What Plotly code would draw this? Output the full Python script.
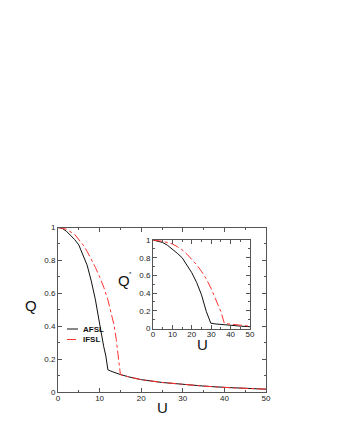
import plotly.graph_objects as go

# Main panel data
u_afsl = [0, 1, 2, 3, 4, 5, 6, 7, 8, 8.6, 9, 9.8, 10, 10.6, 11, 11.5, 12, 13, 14, 15, 17, 20, 25, 30, 35, 40, 45, 50]
q_afsl = [1, 0.995, 0.978, 0.955, 0.927, 0.894, 0.838, 0.771, 0.675, 0.607, 0.56, 0.444, 0.415, 0.321, 0.275, 0.219, 0.135, 0.124, 0.114, 0.106, 0.092, 0.075, 0.058, 0.045, 0.036, 0.028, 0.022, 0.017]
u_ifsl = [0, 2, 4, 6, 7, 8, 9, 10, 11, 12, 13, 13.5, 14, 14.3, 14.8, 15, 17, 20, 25, 30, 35, 40, 45, 50]
q_ifsl = [1, 0.99, 0.958, 0.895, 0.855, 0.808, 0.757, 0.70, 0.637, 0.56, 0.465, 0.403, 0.32, 0.26, 0.137, 0.106, 0.092, 0.075, 0.058, 0.045, 0.036, 0.028, 0.022, 0.017]

# Inset data
ui_afsl = [0, 2.5, 5, 7.5, 10, 12.5, 15, 17.5, 20, 22.5, 25, 27.5, 29.8, 32, 35, 40, 45, 50]
qi_afsl = [1, 0.99, 0.972, 0.94, 0.90, 0.85, 0.80, 0.72, 0.63, 0.52, 0.38, 0.19, 0.06, 0.052, 0.045, 0.035, 0.027, 0.02]
ui_ifsl = [0, 2.5, 5, 7.5, 10, 12.5, 15, 17.5, 20, 22.5, 25, 27.5, 30, 32.5, 35, 36.8, 40, 45, 50]
qi_ifsl = [1, 0.995, 0.985, 0.97, 0.955, 0.925, 0.89, 0.84, 0.785, 0.72, 0.645, 0.56, 0.45, 0.325, 0.19, 0.057, 0.048, 0.036, 0.026]

x_ticks = [0, 10, 20, 30, 40, 50]
y_ticks = [0, 0.2, 0.4, 0.6, 0.8, 1]
series_names = ["AFSL", "IFSL"]

BLACK = "#111111"
RED = "#ff3030"
FONT = "Liberation Sans, Arial, sans-serif"

fig = go.Figure()
fig.add_trace(go.Scatter(x=u_afsl, y=q_afsl, mode="lines", line=dict(color=BLACK, width=1),
                         xaxis="x", yaxis="y", showlegend=False))
fig.add_trace(go.Scatter(x=u_ifsl, y=q_ifsl, mode="lines", line=dict(color=RED, width=1, dash="dashdot"),
                         xaxis="x", yaxis="y", showlegend=False))
fig.add_trace(go.Scatter(x=ui_afsl, y=qi_afsl, mode="lines", line=dict(color=BLACK, width=1),
                         xaxis="x2", yaxis="y2", showlegend=False))
fig.add_trace(go.Scatter(x=ui_ifsl, y=qi_ifsl, mode="lines", line=dict(color=RED, width=1, dash="dashdot"),
                         xaxis="x2", yaxis="y2", showlegend=False))

# page has an 8px body margin; figure sized to fit the 340x440 window
OFF = 8
W, H = 340 - OFF, 440 - OFF
def px(x):
    return (x - OFF) / W
def py(y):
    return 1 - (y - OFF) / H

common = dict(showline=True, linecolor="#555555", linewidth=1, mirror="allticks",
              ticks="inside", ticklen=4, tickcolor="#555555", tickwidth=1,
              showgrid=False, zeroline=False, automargin=False,
              tickfont=dict(family=FONT, size=8, color="#222222"))

fig.update_layout(
    width=W, height=H,
    margin=dict(l=0, r=0, t=0, b=0),
    paper_bgcolor="white", plot_bgcolor="white",
    xaxis=dict(domain=[px(58), px(266)], range=[0, 50], tickvals=x_ticks, anchor="y", ticklabelstandoff=-2,
               minor=dict(ticks="inside", ticklen=2, dtick=5, tickcolor="#555555"), **common),
    yaxis=dict(domain=[py(392), py(227.5)], range=[0, 1], tickvals=y_ticks, anchor="x",
               minor=dict(ticks="inside", ticklen=2, dtick=0.1, tickcolor="#555555"), **common),
    xaxis2=dict(domain=[px(153), px(250)], range=[0, 50], tickvals=x_ticks, anchor="y2", ticklabelstandoff=-2,
                minor=dict(ticks="inside", ticklen=2, dtick=5, tickcolor="#555555"), **common),
    yaxis2=dict(domain=[py(328.5), py(240)], range=[0, 1], tickvals=y_ticks, anchor="x2",
                minor=dict(ticks="inside", ticklen=2, dtick=0.1, tickcolor="#555555"), **common),
    showlegend=False,
)

ann_font = dict(family=FONT, size=15, color="#111111")
def label(x, y, text, font):
    fig.add_annotation(x=px(x), y=py(y), xref="paper", yref="paper", text=text, showarrow=False,
                       xanchor="center", yanchor="middle", font=font)

label(31, 305, "Q", ann_font)
label(162, 407, "U", ann_font)
label(124, 280, "Q", ann_font)
label(130, 274, "*", dict(family=FONT, size=6, color="#111111"))
label(202, 344, "U", ann_font)

# Legend (manual)
leg_y = [329, 339.5]
leg_col = [BLACK, RED]
leg_dash = ["solid", "dashdot"]
for name, yy, c, d in zip(series_names, leg_y, leg_col, leg_dash):
    fig.add_shape(type="line", xref="paper", yref="paper", x0=px(67), x1=px(78), y0=py(yy), y1=py(yy),
                  line=dict(color=c, width=1, dash=d))
    fig.add_annotation(x=px(81), y=py(yy), xref="paper", yref="paper", text="<b>" + name + "</b>",
                       showarrow=False, xanchor="left", yanchor="middle",
                       font=dict(family=FONT, size=8, color="#111111"))

fig.write_html("out.html")
